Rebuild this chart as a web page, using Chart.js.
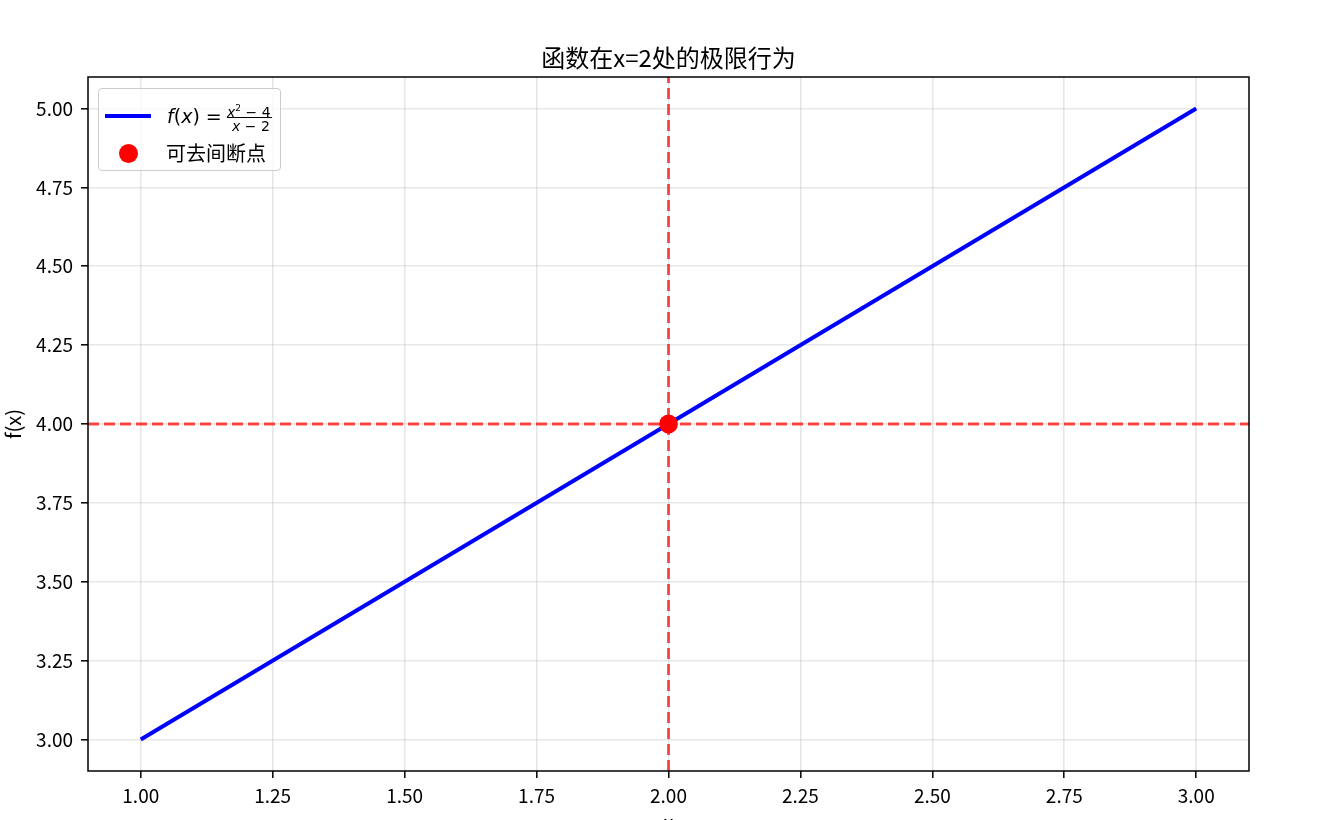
<!DOCTYPE html>
<html>
<head>
<meta charset="utf-8">
<script src="https://cdn.jsdelivr.net/npm/chart.js@4.4.0/dist/chart.umd.min.js"></script>
<style>
  body { margin: 0; background: #fff; }
  #wrap { position: relative; width: 1317px; height: 820px; overflow: hidden; }
  #legend {
    position: absolute; left: 98px; top: 88px; width: 181px; height: 81px;
    border: 1px solid #cccccc; border-radius: 4px; background: rgba(255,255,255,0.8);
    font-family: "DejaVu Sans", sans-serif; color: #000;
  }
  #legend .handle { position: absolute; left: 6px; top: 25px; width: 46px; height: 4px; background: #0000ff; }
  #legend .dot { position: absolute; left: 20px; top: 55px; width: 19px; height: 19px; border-radius: 50%; background: #ff0000; }
  #legend .fx { position: absolute; left: 68px; top: 16px; font-size: 19px; line-height: 22px; white-space: pre; }
  #legend .num { position: absolute; left: 128px; top: 11px; font-size: 14px; line-height: 16px; white-space: pre; }
  #legend .num sup { font-size: 9px; vertical-align: 6px; }
  #legend .bar { position: absolute; left: 128px; top: 27.5px; width: 45px; height: 1.3px; background: #000; }
  #legend .den { position: absolute; left: 133px; top: 29px; font-size: 14px; line-height: 16px; white-space: pre; }
  #legend .lbl2 { position: absolute; left: 67px; top: 51px; font-family: "Noto Sans CJK SC", sans-serif; font-size: 20px; line-height: 26px; }
</style>
</head>
<body>
<div id="wrap">
  <canvas id="chart" width="1317" height="820"></canvas>
  <div id="legend">
    <div class="handle"></div>
    <div class="fx"><i>f</i>(<i>x</i>) =</div>
    <div class="num"><i>x</i><sup>2</sup> − 4</div>
    <div class="bar"></div>
    <div class="den"><i>x</i> − 2</div>
    <div class="dot"></div>
    <div class="lbl2">可去间断点</div>
  </div>
</div>
<script>
// curve f(x) = (x^2 - 4)/(x - 2), sampled along x
const curveX = [1.0, 1.5, 2.0, 2.5, 3.0];
const curveY = [3.0, 3.5, 4.0, 4.5, 5.0];

// removable discontinuity and the limit guide lines
const holeX = [2.0];
const holeY = [4.0];
const limitX = 2.0;
const limitY = 4.0;

// axis ranges and tick labels
const xRange = [0.9, 3.1];
const yRange = [2.9, 5.1];
const xTicks = [1.0, 1.25, 1.5, 1.75, 2.0, 2.25, 2.5, 2.75, 3.0];
const yTicks = [3.0, 3.25, 3.5, 3.75, 4.0, 4.25, 4.5, 4.75, 5.0];

const FONT = '"Noto Sans CJK SC", "DejaVu Sans", sans-serif';
const redDash = 'rgba(255, 0, 0, 0.72)';
const gridColor = 'rgba(176, 176, 176, 0.3)';

// draw the full box around the plot area like matplotlib spines
const frameBox = {
    id: 'frameBox',
    afterDraw(chart) {
        const { ctx, chartArea: a } = chart;
        ctx.save();
        ctx.strokeStyle = '#000';
        ctx.lineWidth = 1.5;
        ctx.strokeRect(a.left, a.top, a.right - a.left, a.bottom - a.top);
        ctx.restore();
    }
};

new Chart(document.getElementById('chart'), {
    type: 'scatter',
    data: {
        datasets: [
            {
                label: 'hole',
                data: holeX.map((x, i) => ({ x, y: holeY[i] })),
                backgroundColor: '#ff0000',
                borderWidth: 0,
                pointRadius: 9.4,
                order: 0
            },
            {
                label: 'curve',
                data: curveX.map((x, i) => ({ x, y: curveY[i] })),
                showLine: true,
                borderColor: '#0000ff',
                borderWidth: 4,
                pointRadius: 0,
                order: 1
            },
            {
                label: 'vline',
                data: [{ x: limitX, y: yRange[0] }, { x: limitX, y: yRange[1] }],
                showLine: true,
                borderColor: redDash,
                borderWidth: 2.8,
                borderDash: [11, 5],
                pointRadius: 0,
                order: 2
            },
            {
                label: 'hline',
                data: [{ x: xRange[0], y: limitY }, { x: xRange[1], y: limitY }],
                showLine: true,
                borderColor: redDash,
                borderWidth: 2.8,
                borderDash: [11, 5],
                pointRadius: 0,
                order: 2
            }
        ]
    },
    options: {
        responsive: false,
        animation: false,
        // left padding shifts the title centre onto the plot centre
        layout: { padding: { left: 20, right: 0, top: 0, bottom: 0 } },
        plugins: {
            legend: { display: false },
            tooltip: { enabled: false },
            title: {
                display: true,
                text: '函数在x=2处的极限行为',
                color: '#000',
                font: { family: FONT, size: 24, weight: 'normal' },
                padding: { top: 43, bottom: 5.2 }
            }
        },
        scales: {
            x: {
                type: 'linear',
                min: xRange[0],
                max: xRange[1],
                afterBuildTicks: s => { s.ticks = xTicks.map(v => ({ value: v })); },
                afterFit: s => { s.height = 49; },
                grid: { color: gridColor, lineWidth: 1.6, tickColor: '#000', tickLength: 7, tickWidth: 1.5 },
                border: { display: false },
                ticks: {
                    color: '#000',
                    padding: 6,
                    maxRotation: 0,
                    font: { family: FONT, size: 19 },
                    callback: v => v.toFixed(2)
                },
                title: {
                    display: true,
                    text: 'x',
                    color: '#000',
                    font: { family: FONT, size: 20 },
                    padding: { top: 0, bottom: -14 }
                }
            },
            y: {
                type: 'linear',
                min: yRange[0],
                max: yRange[1],
                afterBuildTicks: s => { s.ticks = yTicks.map(v => ({ value: v })); },
                afterFit: s => { s.width = 68; },
                grid: { color: gridColor, lineWidth: 1.6, tickColor: '#000', tickLength: 7, tickWidth: 1.5 },
                border: { display: false },
                ticks: {
                    color: '#000',
                    padding: 8,
                    font: { family: FONT, size: 19 },
                    callback: v => v.toFixed(2)
                },
                title: {
                    display: true,
                    text: 'f(x)',
                    color: '#000',
                    font: { family: FONT, size: 20 },
                    padding: { top: -18.5, bottom: 0 }
                }
            },
            // empty right-hand margin
            yMargin: {
                type: 'linear',
                position: 'right',
                min: yRange[0],
                max: yRange[1],
                afterFit: s => { s.width = 68; },
                grid: { display: false, drawTicks: false },
                border: { display: false },
                ticks: { display: false }
            }
        }
    },
    plugins: [frameBox]
});
</script>
</body>
</html>
